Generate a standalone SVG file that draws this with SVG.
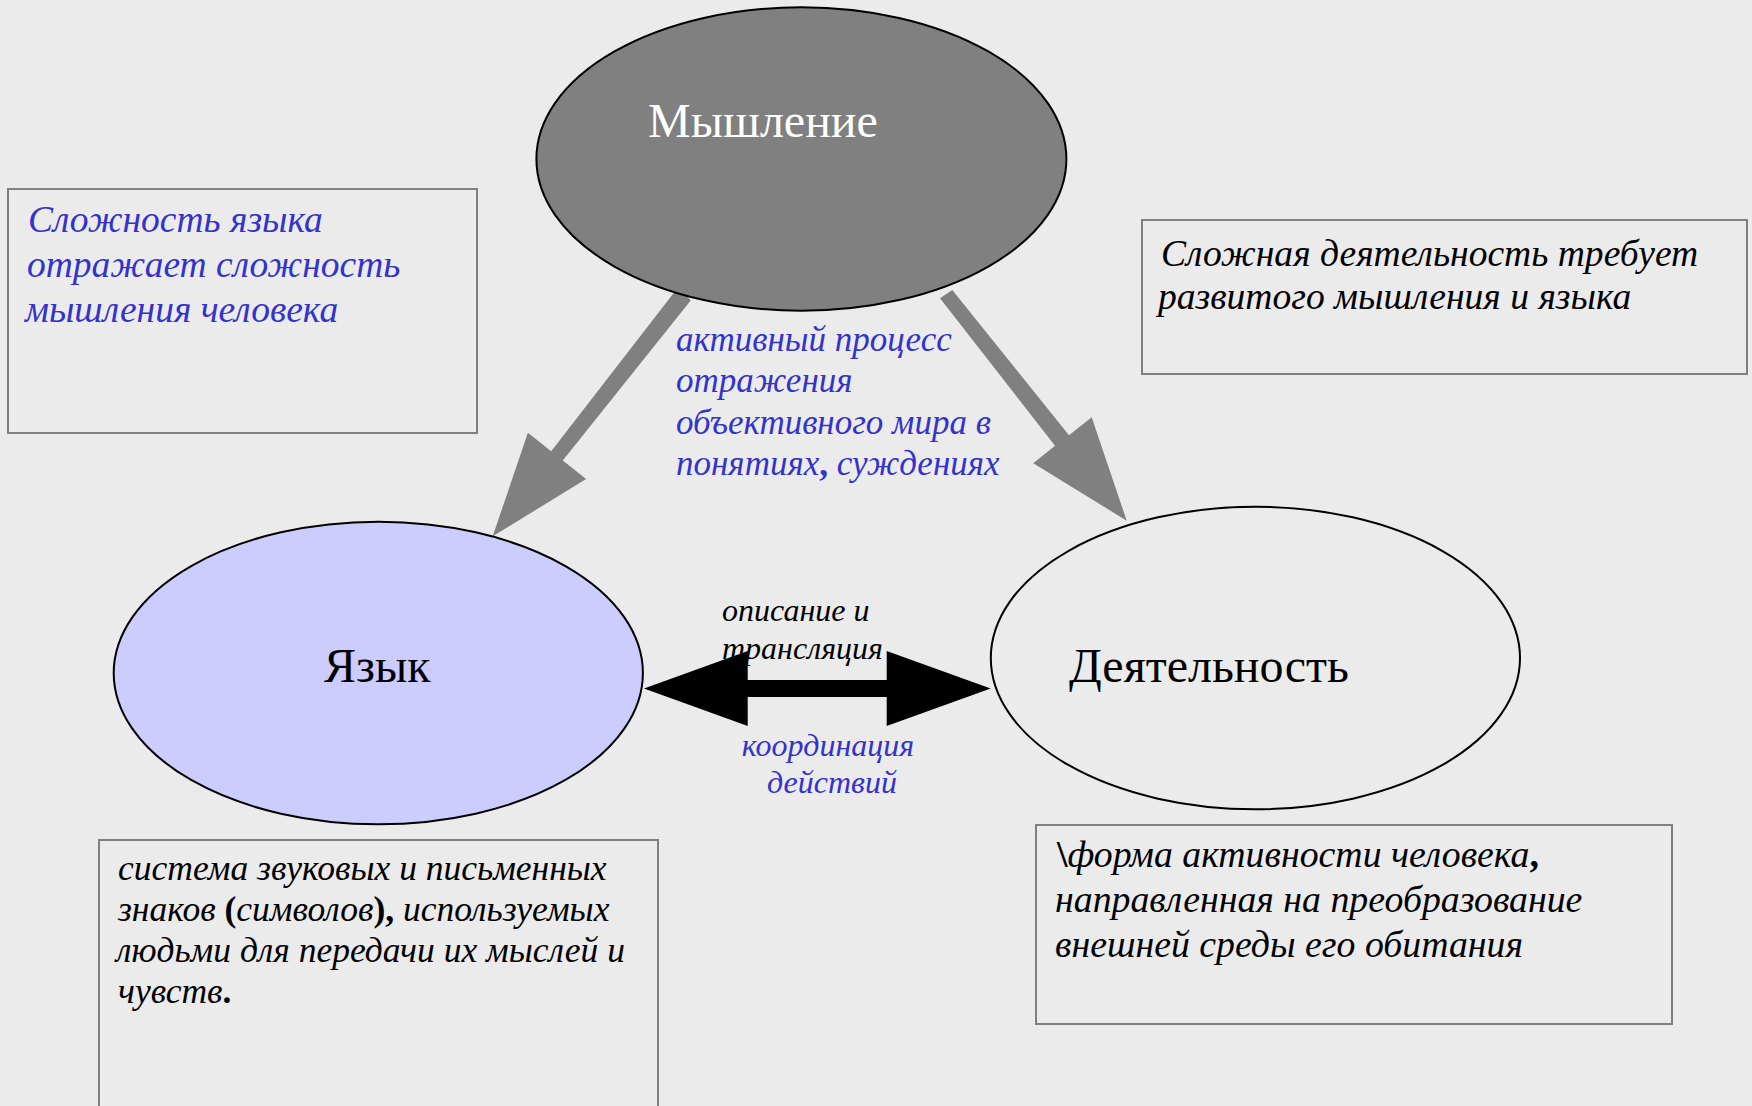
<svg xmlns="http://www.w3.org/2000/svg" width="1752" height="1106" viewBox="0 0 1752 1106">
<style>
.bg{fill:#ebebeb}
.node{stroke:#000;stroke-width:2}
.box{fill:none;stroke:#808080;stroke-width:2}
.big{font-family:"Liberation Serif","Times New Roman",serif;font-size:48px}
.it{font-family:"Liberation Serif","Times New Roman",serif;font-style:italic}
.blue{fill:#3333cc}
.blk{fill:#000}
.b{font-weight:bold;font-style:normal}
</style>
<rect class="bg" x="0" y="0" width="1752" height="1106"/>
<g id="connectors">
  <polygon id="arrow-left" fill="#808080" points="690.7,300.6 679.1,286 551.2,451.3 527.9,432.7 492.7,536.3 586.1,479.1 562.8,460.5"/>
  <polygon id="arrow-right" fill="#808080" points="940,298.3 952.3,290 1069,435.3 1091.7,417.3 1126.7,520.7 1033.3,463.3 1055,445.7"/>
  <polygon id="arrow-both" fill="#000" points="644,688.5 747.7,651 747.7,680 886.7,680 886.7,651 990.7,688.5 886.7,726 886.7,697 747.7,697 747.7,726"/>
</g>
<g id="node-thinking">
  <ellipse class="node" cx="801.4" cy="159" rx="265" ry="151.7" fill="#808080"/>
  <text class="big" x="648" y="137" fill="#fff">Мышление</text>
</g>
<g id="node-language">
  <ellipse class="node" cx="378.3" cy="673" rx="264.6" ry="151.3" fill="#ccccff"/>
  <text class="big" x="324" y="682" fill="#000">Язык</text>
</g>
<g id="node-activity">
  <ellipse class="node" cx="1255.4" cy="658" rx="264.6" ry="151.3" fill="#ebebeb"/>
  <text class="big" x="1069" y="682" fill="#000">Деятельность</text>
</g>
<g id="box-complexity">
  <rect class="box" x="8" y="189" width="469" height="244"/>
  <text class="it blue" font-size="37.5">
    <tspan x="28" y="232">Сложность языка</tspan>
    <tspan x="27" y="277">отражает сложность</tspan>
    <tspan x="25" y="322">мышления человека</tspan>
  </text>
</g>
<g id="box-activity-req">
  <rect class="box" x="1142" y="220" width="605" height="154"/>
  <text class="it blk" font-size="37.6">
    <tspan x="1161" y="266">Сложная деятельность требует</tspan>
    <tspan x="1158" y="309">развитого мышления и языка</tspan>
  </text>
</g>
<g id="box-language-def">
  <rect class="box" x="99" y="840" width="559" height="280"/>
  <text class="it blk" font-size="35.5">
    <tspan x="118" y="880">система звуковых и письменных</tspan>
    <tspan x="118" y="921">знаков <tspan class="b">(</tspan>символов<tspan class="b">),</tspan> используемых</tspan>
    <tspan x="116" y="962">людьми для передачи их мыслей и</tspan>
    <tspan x="118" y="1003">чувств<tspan class="b">.</tspan></tspan>
  </text>
</g>
<g id="box-activity-def">
  <rect class="box" x="1036" y="825" width="636" height="199"/>
  <text class="it blk" font-size="37.8">
    <tspan x="1057" y="867"><tspan class="b">\</tspan>форма активности человека<tspan class="b">,</tspan></tspan>
    <tspan x="1055" y="912">направленная на преобразование</tspan>
    <tspan x="1055" y="957">внешней среды его обитания</tspan>
  </text>
</g>
<g id="label-thinking">
  <text class="it blue" font-size="35">
    <tspan x="676" y="351">активный процесс</tspan>
    <tspan x="676" y="392">отражения</tspan>
    <tspan x="676" y="434">объективного мира в</tspan>
    <tspan x="676" y="475">понятиях<tspan class="b">,</tspan> суждениях</tspan>
  </text>
</g>
<g id="label-description">
  <text class="it blk" font-size="32">
    <tspan x="722" y="621">описание и</tspan>
    <tspan x="722" y="659">трансляция</tspan>
  </text>
</g>
<g id="label-coordination">
  <text class="it blue" font-size="32" text-anchor="middle">
    <tspan x="832" y="756">координация</tspan>
    <tspan x="832" y="793">действий</tspan>
  </text>
</g>
</svg>
